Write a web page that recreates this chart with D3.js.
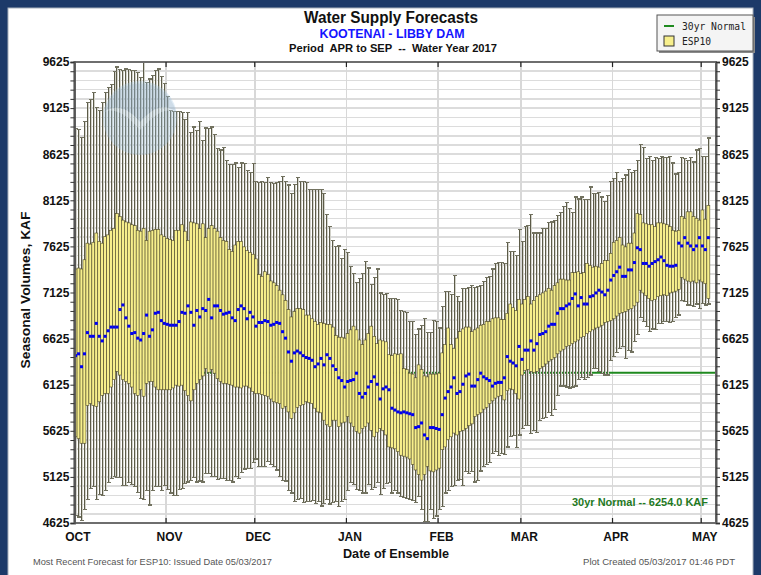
<!DOCTYPE html>
<html>
<head>
<meta charset="utf-8">
<script src="https://cdn.jsdelivr.net/npm/d3@7"></script>
<style>
  body { margin: 0; background: #1d3a69; }
  svg { display: block; }
</style>
</head>
<body>
<svg id="chart" width="761" height="575"></svg>
<script>
// ---- Ensemble dates (one forecast per day) ----
const firstIssue = "2016-10-01";
const lastIssue = "2017-05-03";
const monthLabels = ["OCT", "NOV", "DEC", "JAN", "FEB", "MAR", "APR", "MAY"];
const yTickLabels = [4625, 5125, 5625, 6125, 6625, 7125, 7625, 8125, 8625, 9125, 9625];
const normal30yr = 6254.0;

// ---- ESP10 seasonal volume (KAF), Apr-Sep, by issue date ----
// whisker top (maximum trace)
const esMax = [].concat(
  [8900, 8890, 8810, 8980, 9190, 9220, 9290, 9130, 9100, 9190, 9290, 9350, 9380, 9520, 9570, 9540, 9530, 9550, 9540, 9530, 9530, 9510, 9460, 9625, 9400, 9440, 9480, 9530, 9550, 9470, 9390],
  [9250, 9100, 9090, 9090, 9090, 9080, 9000, 9080, 8860, 8920, 8880, 8980, 8770, 8910, 8900, 8920, 8840, 8690, 8670, 8700, 8560, 8510, 8510, 8530, 8480, 8530, 8520, 8450, 8430, 8520],
  [8330, 8320, 8330, 8320, 8370, 8320, 8310, 8320, 8330, 8380, 8330, 8290, 8200, 8300, 8370, 8330, 8330, 8320, 8240, 8240, 8240, 8240, 8240, 8200, 7970, 7840, 7690, 7620, 7630, 7490, 7590],
  [7560, 7410, 7330, 7230, 7280, 7330, 7460, 7390, 7210, 7290, 7380, 7120, 7100, 7110, 7060, 7060, 7060, 7050, 6930, 6920, 6910, 6810, 6810, 6670, 6730, 6770, 6840, 6690, 6690, 6820, 6810],
  [6740, 6970, 7140, 7140, 7100, 7310, 7080, 7030, 7170, 7170, 7180, 7200, 7180, 7190, 7200, 7240, 7290, 7300, 7380, 7440, 7450, 7450, 7440, 7670, 7570, 7570, 7530, 7810],
  [7680, 7840, 7850, 7970, 7770, 7770, 7770, 7820, 7820, 7880, 7890, 7910, 7960, 7990, 8060, 8100, 8040, 7990, 8160, 8140, 8160, 8130, 8130, 8270, 8200, 8200, 8210, 8160, 8110, 8180, 8330],
  [8360, 8430, 8330, 8360, 8400, 8460, 8430, 8450, 8560, 8730, 8700, 8580, 8600, 8560, 8590, 8580, 8600, 8590, 8590, 8600, 8530, 8410, 8430, 8590, 8580, 8560, 8590, 8540, 8670, 8690],
  [8600, 8600, 8800]
);
// box top
const esHigh = [].concat(
  [7380, 7390, 7380, 7480, 7660, 7650, 7670, 7770, 7680, 7660, 7730, 7750, 7800, 7820, 7980, 7950, 7910, 7890, 7880, 7860, 7850, 7800, 7790, 7820, 7690, 7790, 7800, 7810, 7810, 7750, 7730],
  [7710, 7700, 7690, 7800, 7800, 7860, 7790, 7690, 7890, 7880, 7870, 7820, 7870, 7720, 7820, 7850, 7820, 7790, 7720, 7690, 7680, 7590, 7570, 7640, 7680, 7680, 7620, 7580, 7560, 7540],
  [7490, 7320, 7300, 7350, 7320, 7250, 7230, 7200, 7150, 7100, 7040, 6940, 6860, 6920, 6950, 6950, 6940, 6880, 6880, 6840, 6810, 6780, 6800, 6790, 6780, 6780, 6750, 6660, 6640, 6640, 6630],
  [6680, 6720, 6760, 6720, 6610, 6560, 6610, 6680, 6760, 6650, 6570, 6610, 6600, 6590, 6450, 6440, 6460, 6450, 6460, 6300, 6290, 6250, 6240, 6200, 6340, 6290, 6220, 6210, 6240, 6240, 6240],
  [6250, 6470, 6560, 6740, 6560, 6520, 6630, 6700, 6730, 6750, 6750, 6700, 6720, 6740, 6770, 6780, 6810, 6810, 6840, 6850, 6850, 6830, 6830, 6900, 7000, 6960, 6930, 7050],
  [7000, 7050, 7080, 7000, 7040, 7080, 7100, 7120, 7140, 7170, 7150, 7200, 7230, 7270, 7270, 7260, 7260, 7340, 7340, 7350, 7330, 7340, 7440, 7420, 7400, 7410, 7400, 7440, 7470, 7470, 7550],
  [7670, 7690, 7720, 7640, 7620, 7660, 7660, 7770, 7980, 7970, 7880, 7870, 7860, 7860, 7840, 7880, 7880, 7870, 7860, 7840, 7800, 7790, 7800, 7950, 7930, 8000, 8000, 7950, 7930, 7910],
  [8020, 7920, 8070]
);
// median
const esMedian = [].concat(
  [6440, 6460, 6320, 6460, 6690, 6650, 6650, 6790, 6650, 6600, 6650, 6710, 6750, 6750, 6750, 6940, 6990, 6850, 6760, 6680, 6690, 6630, 6610, 6680, 6880, 6650, 6720, 6900, 6910, 6820, 6790],
  [6780, 6770, 6770, 6770, 6810, 6910, 6900, 6980, 6910, 6770, 6930, 6860, 6950, 6930, 7050, 6850, 6980, 6980, 6930, 6890, 6900, 6910, 6850, 6820, 6940, 6980, 6950, 6840, 6910, 6860],
  [6760, 6800, 6800, 6820, 6810, 6770, 6780, 6800, 6790, 6700, 6630, 6480, 6380, 6470, 6490, 6470, 6440, 6420, 6410, 6390, 6320, 6350, 6410, 6340, 6450, 6410, 6330, 6290, 6200, 6170, 6100],
  [6160, 6170, 6180, 6250, 6030, 5990, 6030, 6100, 6160, 6210, 6130, 5970, 6080, 6100, 6070, 5870, 5850, 5830, 5820, 5830, 5820, 5810, 5800, 5660, 5670, 5710, 5580, 5540, 5660, 5660, 5650],
  [5640, 5800, 5980, 6050, 6100, 6200, 6030, 6050, 6130, 6220, 6240, 6110, 6110, 6180, 6250, 6210, 6190, 6170, 6110, 6140, 6150, 6150, 6200, 6430, 6380, 6360, 6330, 6540],
  [6400, 6500, 6500, 6600, 6500, 6570, 6670, 6680, 6700, 6760, 6780, 6780, 6900, 6950, 6950, 6980, 7000, 7060, 7110, 6980, 7070, 7000, 7000, 7080, 7090, 7120, 7150, 7130, 7100, 7150, 7260],
  [7310, 7350, 7400, 7300, 7300, 7370, 7370, 7450, 7610, 7590, 7440, 7440, 7410, 7440, 7460, 7480, 7510, 7470, 7420, 7410, 7410, 7420, 7660, 7630, 7720, 7660, 7630, 7590, 7630, 7720],
  [7630, 7590, 7720]
);
// box bottom
const esLow = [].concat(
  [5560, 5540, 5490, 5490, 5900, 5920, 5900, 5890, 5940, 6010, 6030, 6030, 6100, 6180, 6270, 6230, 6180, 6160, 6140, 6100, 6030, 6010, 6070, 6000, 6140, 6160, 6160, 6100, 6070, 6070, 6070],
  [6070, 6070, 6090, 6120, 6110, 6120, 6060, 6010, 5950, 6070, 6140, 6180, 6220, 6300, 6260, 6290, 6250, 6190, 6160, 6140, 6140, 6130, 6120, 6100, 6100, 6090, 6110, 6110, 6090, 6050],
  [6030, 6030, 6020, 6010, 6000, 5970, 5940, 5930, 5920, 5870, 5890, 5830, 5760, 5820, 5880, 5900, 5910, 5940, 5930, 5920, 5870, 5830, 5820, 5740, 5690, 5670, 5740, 5740, 5670, 5710, 5720],
  [5780, 5710, 5670, 5620, 5600, 5650, 5670, 5710, 5630, 5560, 5610, 5650, 5630, 5580, 5450, 5440, 5430, 5400, 5360, 5350, 5340, 5320, 5260, 5200, 5150, 5090, 5150, 5240, 5190, 5180, 5200],
  [5220, 5420, 5450, 5530, 5560, 5600, 5580, 5620, 5630, 5650, 5680, 5700, 5780, 5800, 5820, 5860, 5880, 5920, 5950, 5980, 6000, 6010, 5960, 6060, 6080, 6070, 6030, 5970],
  [6230, 6280, 6290, 6270, 6260, 6270, 6300, 6320, 6350, 6380, 6400, 6420, 6460, 6490, 6510, 6540, 6550, 6570, 6590, 6610, 6640, 6650, 6680, 6700, 6720, 6740, 6750, 6770, 6800, 6810, 6820],
  [6840, 6870, 6900, 6910, 6920, 6940, 6950, 6980, 7020, 7150, 7120, 7090, 7060, 7040, 7050, 7080, 7090, 7100, 7090, 7120, 7130, 7140, 7160, 7290, 7270, 7250, 7240, 7250, 7230, 7260],
  [7240, 7220, 7060]
);
// whisker bottom (minimum trace)
const esMin = [].concat(
  [4710, 4690, 4650, 4770, 4880, 5000, 5020, 4880, 4930, 4920, 4980, 5060, 5110, 5130, 5120, 5120, 5030, 5030, 5060, 5040, 5020, 4960, 4890, 4880, 4980, 4820, 4980, 5020, 5020, 4980, 5030],
  [4990, 4950, 4920, 4920, 4990, 5000, 5050, 5070, 5090, 5120, 5070, 5080, 5070, 5160, 5160, 5130, 5130, 5100, 5110, 5110, 5090, 5090, 5070, 5130, 5110, 5170, 5210, 5220, 5220, 5280],
  [5320, 5240, 5240, 5240, 5290, 5260, 5240, 5200, 5130, 5090, 5080, 4980, 4950, 4860, 4880, 4890, 4850, 4860, 4860, 4870, 4840, 4860, 4810, 4840, 4880, 4830, 4850, 4860, 4800, 4860, 4880],
  [4980, 5060, 5040, 4990, 4980, 4950, 4950, 5040, 4990, 5010, 5060, 4930, 5000, 5050, 5060, 4950, 4980, 4950, 4910, 4900, 4890, 4880, 4870, 4850, 4910, 4770, 4640, 4640, 4770, 4670, 4700],
  [4770, 4800, 4950, 4980, 5020, 5030, 5090, 5100, 5030, 5180, 5160, 5180, 5070, 5090, 5190, 5240, 5260, 5280, 5380, 5400, 5360, 5380, 5370, 5450, 5560, 5570, 5440, 5580],
  [5650, 5680, 5680, 5600, 5630, 5610, 5740, 5760, 5770, 5820, 5790, 5860, 6010, 6110, 6110, 6100, 6090, 6100, 6110, 6180, 6200, 6180, 6200, 6230, 6300, 6300, 6270, 6250, 6230, 6230, 6390],
  [6430, 6470, 6520, 6540, 6410, 6500, 6480, 6590, 6670, 6850, 6810, 6760, 6700, 6730, 6720, 6790, 6790, 6810, 6810, 6800, 6810, 6850, 6880, 7040, 7030, 6990, 6980, 6970, 7000, 6950],
  [7010, 6990, 7000]
);

// ---- layout ----
const W = 761, H = 575;
const plot = { left: 74.4, right: 716, top: 62, bottom: 523 };
const font = "'Liberation Sans Narrow', 'Arial Narrow', 'Liberation Sans', Arial, sans-serif";
const mono = "'DejaVu Sans Mono', 'Liberation Mono', monospace";

const utc = d3.utcParse("%Y-%m-%d");
const days = d3.utcDay.range(utc(firstIssue), d3.utcDay.offset(utc(lastIssue), 1));
const rows = days.map((date, i) => ({
  date, max: esMax[i], hi: esHigh[i], med: esMedian[i], lo: esLow[i], min: esMin[i]
}));

const x = d3.scaleUtc()
  .domain([utc("2016-10-01"), utc("2017-05-06")])
  .range([plot.left, plot.right]);
const y = d3.scaleLinear()
  .domain([4625, 9625])
  .range([plot.bottom, plot.top]);
const cx = d => x(d.date) + 1.2;

const svg = d3.select("#chart");

// page frame
svg.append("rect").attr("width", W).attr("height", H).attr("fill", "#1d3a69");
svg.append("rect").attr("x", 8).attr("y", 8).attr("width", 745).attr("height", 575)
  .attr("fill", "#ffffff").attr("stroke", "#a8b0bc").attr("stroke-width", 1);

// titles
svg.append("text").attr("x", 391).attr("y", 23).attr("text-anchor", "middle")
  .attr("font-family", font).attr("font-weight", "bold").attr("font-size", 16)
  .attr("fill", "#111").attr("textLength", 174).attr("lengthAdjust", "spacingAndGlyphs")
  .text("Water Supply Forecasts");
svg.append("text").attr("x", 392).attr("y", 38).attr("text-anchor", "middle")
  .attr("font-family", font).attr("font-weight", "bold").attr("font-size", 13)
  .attr("fill", "#1414ff").attr("textLength", 145).attr("lengthAdjust", "spacingAndGlyphs")
  .text("KOOTENAI - LIBBY DAM");
svg.append("text").attr("x", 393).attr("y", 52).attr("text-anchor", "middle")
  .attr("font-family", font).attr("font-weight", "bold").attr("font-size", 11)
  .attr("fill", "#111").attr("textLength", 208).attr("lengthAdjust", "spacingAndGlyphs")
  .attr("xml:space", "preserve")
  .text("Period  APR to SEP  --  Water Year 2017");

// grid
const minorTicks = d3.range(4625, 9626, 100);
const monthStarts = d3.utcMonth.range(utc("2016-10-01"), utc("2017-05-02"));
const grid = svg.append("g").attr("shape-rendering", "crispEdges");
grid.selectAll("line.h").data(minorTicks).join("line")
  .attr("x1", plot.left).attr("x2", plot.right)
  .attr("y1", d => y(d)).attr("y2", d => y(d))
  .attr("stroke", "#dcdcdc").attr("stroke-width", 1.5);
grid.selectAll("line.v").data(monthStarts.slice(1)).join("line")
  .attr("x1", d => x(d)).attr("x2", d => x(d))
  .attr("y1", plot.top).attr("y2", plot.bottom)
  .attr("stroke", "#d8d8d8").attr("stroke-width", 1.5);

// 30-yr normal line
svg.append("line")
  .attr("x1", plot.left).attr("x2", plot.right)
  .attr("y1", y(normal30yr)).attr("y2", y(normal30yr))
  .attr("stroke", "#1f8a1f").attr("stroke-width", 2);

// whiskers
const wg = svg.append("g").attr("shape-rendering", "crispEdges");
wg.selectAll("line.w").data(rows).join("line")
  .attr("x1", d => cx(d)).attr("x2", d => cx(d))
  .attr("y1", d => y(d.max)).attr("y2", d => y(d.min))
  .attr("stroke", "#5c5b48").attr("stroke-width", 1);
wg.selectAll("line.w2").data(rows).join("line")
  .attr("x1", d => cx(d) + 1).attr("x2", d => cx(d) + 1)
  .attr("y1", d => y(d.max)).attr("y2", d => y(d.min))
  .attr("stroke", "#d2d2ca").attr("stroke-width", 1);
wg.selectAll("line.ct").data(rows).join("line")
  .attr("x1", d => cx(d) - 1.5).attr("x2", d => cx(d) + 2.5)
  .attr("y1", d => y(d.max)).attr("y2", d => y(d.max))
  .attr("stroke", "#727260").attr("stroke-width", 1.2);
wg.selectAll("line.cb").data(rows).join("line")
  .attr("x1", d => cx(d) - 1.5).attr("x2", d => cx(d) + 2.5)
  .attr("y1", d => y(d.min)).attr("y2", d => y(d.min))
  .attr("stroke", "#727260").attr("stroke-width", 1.2);

// boxes
svg.append("g").selectAll("rect").data(rows).join("rect")
  .attr("x", d => cx(d) - 1.5).attr("width", 3)
  .attr("y", d => y(d.hi)).attr("height", d => y(d.lo) - y(d.hi))
  .attr("fill", "#f7ef8c").attr("stroke", "#4b4729").attr("stroke-width", 0.6);

// medians
svg.append("g").selectAll("rect").data(rows).join("rect")
  .attr("x", d => cx(d) - 1.5).attr("y", d => y(d.med) - 1.5)
  .attr("width", 3).attr("height", 3).attr("fill", "#0000f0");

// faint logo watermark over the upper-left traces
const wm = svg.append("g").attr("transform", "translate(140,118)");
wm.append("circle").attr("r", 37).attr("fill", "#9fc3e0").attr("opacity", 0.32);
wm.append("path").attr("d", "M-36,-6 A37,37 0 0 1 36,-6 C20,-18 8,-4 0,4 C-8,-6 -22,-16 -36,-6 Z")
  .attr("fill", "#8ea6bc").attr("opacity", 0.22);
wm.append("path").attr("d", "M-36,-6 C-22,-16 -8,-6 0,4 C8,-4 20,-18 36,-6 C22,-12 10,2 0,12 C-10,0 -24,-12 -36,-6 Z")
  .attr("fill", "#eef4fa").attr("opacity", 0.3);

// plot frame
svg.append("rect").attr("x", plot.left).attr("y", plot.top)
  .attr("width", plot.right - plot.left).attr("height", plot.bottom - plot.top)
  .attr("fill", "none").attr("stroke", "#6e6e6e").attr("stroke-width", 2);

// y axes (left and right)
const yAxisL = d3.axisLeft(y).tickValues(minorTicks).tickSize(4)
  .tickFormat(d => yTickLabels.includes(d) ? d : "");
const yAxisR = d3.axisRight(y).tickValues(minorTicks).tickSize(4)
  .tickFormat(d => yTickLabels.includes(d) ? d : "");
[[yAxisL, plot.left, "end", -5], [yAxisR, plot.right, "start", 6]].forEach(([ax, px, anchor, dx]) => {
  const g = svg.append("g").attr("transform", `translate(${px},0)`).call(ax);
  g.select(".domain").attr("stroke", "#555").attr("stroke-width", 2);
  g.selectAll(".tick line").attr("stroke", "#333");
  g.selectAll(".tick text").attr("font-family", font).attr("font-weight", "bold")
    .attr("font-size", 12).attr("fill", "#111").attr("text-anchor", anchor)
    .attr("x", dx);
});

// x axis: month ticks inside the frame, labels below
const xAxis = d3.axisBottom(x).tickValues(monthStarts).tickSize(0)
  .tickFormat((d, i) => monthLabels[i]);
const xg = svg.append("g").attr("transform", `translate(0,${plot.bottom})`).call(xAxis);
xg.select(".domain").remove();
xg.selectAll(".tick text").attr("font-family", font).attr("font-weight", "bold")
  .attr("font-size", 12).attr("fill", "#111").attr("dx", 3).attr("y", 18).attr("dy", 0);
const tickG = svg.append("g").attr("stroke", "#222").attr("stroke-width", 1.2);
tickG.selectAll("line.b").data(monthStarts.slice(1)).join("line")
  .attr("x1", d => x(d)).attr("x2", d => x(d))
  .attr("y1", plot.bottom).attr("y2", plot.bottom - 5);
tickG.selectAll("line.t").data(monthStarts.slice(1)).join("line")
  .attr("x1", d => x(d)).attr("x2", d => x(d))
  .attr("y1", plot.top).attr("y2", plot.top + 5);

// axis titles
svg.append("text").attr("transform", "translate(30,290) rotate(-90)")
  .attr("text-anchor", "middle").attr("font-family", font).attr("font-weight", "bold")
  .attr("font-size", 13).attr("fill", "#111")
  .attr("textLength", 157).attr("lengthAdjust", "spacingAndGlyphs")
  .text("Seasonal Volumes, KAF");
svg.append("text").attr("x", 396).attr("y", 558).attr("text-anchor", "middle")
  .attr("font-family", font).attr("font-weight", "bold").attr("font-size", 13)
  .attr("fill", "#111").attr("textLength", 106).attr("lengthAdjust", "spacingAndGlyphs")
  .text("Date of Ensemble");

// normal annotation
svg.append("text").attr("x", 708).attr("y", 506).attr("text-anchor", "end")
  .attr("font-family", font).attr("font-weight", "bold").attr("font-size", 11)
  .attr("fill", "#1f7a1f").attr("textLength", 136).attr("lengthAdjust", "spacingAndGlyphs")
  .text(`30yr Normal -- ${normal30yr.toFixed(1)} KAF`);

// footers
svg.append("text").attr("x", 33).attr("y", 565)
  .attr("font-family", font).attr("font-size", 9).attr("fill", "#555")
  .attr("textLength", 239).attr("lengthAdjust", "spacingAndGlyphs")
  .text("Most Recent Forecast for ESP10: Issued Date 05/03/2017");
svg.append("text").attr("x", 735).attr("y", 565).attr("text-anchor", "end")
  .attr("font-family", font).attr("font-size", 9).attr("fill", "#555")
  .attr("textLength", 152).attr("lengthAdjust", "spacingAndGlyphs")
  .text("Plot Created 05/03/2017 01:46 PDT");

// legend
const lg = svg.append("g").attr("transform", "translate(657,15)");
lg.append("rect").attr("x", 2).attr("y", 2).attr("width", 96).attr("height", 36).attr("fill", "#8a8a8a");
lg.append("rect").attr("width", 96).attr("height", 36).attr("fill", "#f4f4f4")
  .attr("stroke", "#555").attr("stroke-width", 1);
lg.append("line").attr("x1", 7).attr("x2", 17).attr("y1", 11).attr("y2", 11)
  .attr("stroke", "#1f8a1f").attr("stroke-width", 2);
lg.append("rect").attr("x", 7).attr("y", 21).attr("width", 10).attr("height", 10)
  .attr("fill", "#f7ef8c").attr("stroke", "#333");
lg.append("text").attr("x", 25).attr("y", 15).attr("font-family", mono).attr("font-size", 10)
  .attr("fill", "#222").attr("textLength", 64).attr("lengthAdjust", "spacingAndGlyphs").text("30yr Normal");
lg.append("text").attr("x", 25).attr("y", 30).attr("font-family", mono).attr("font-size", 10)
  .attr("fill", "#222").attr("textLength", 29).attr("lengthAdjust", "spacingAndGlyphs").text("ESP10");
</script>
</body>
</html>
